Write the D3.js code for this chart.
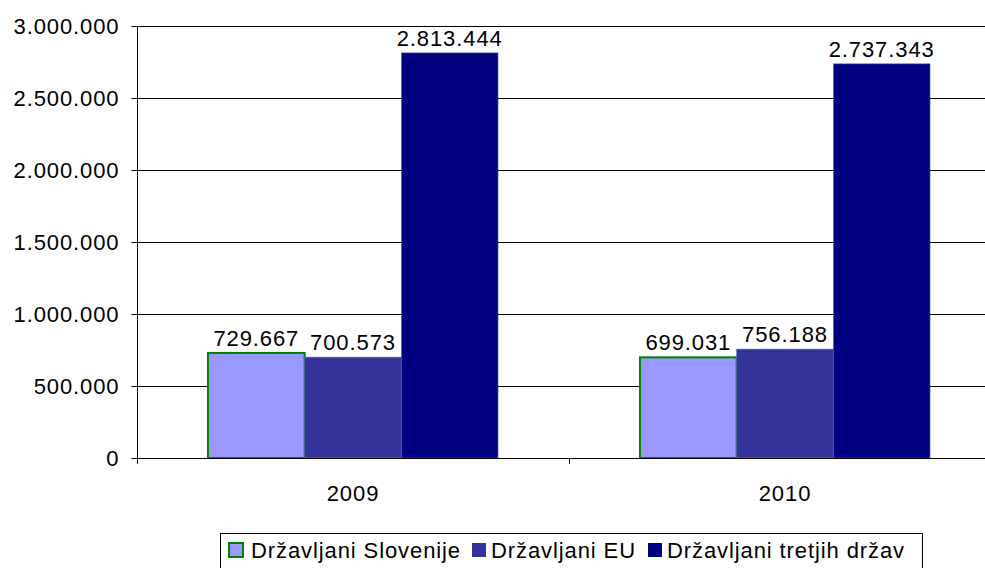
<!DOCTYPE html>
<html>
<head>
<meta charset="utf-8">
<script src="https://cdn.jsdelivr.net/npm/d3@7"></script>
<style>
  body { margin: 0; background: #fff; }
  svg { display: block; font-family: "Liberation Sans", Arial, sans-serif; }
  text { letter-spacing: 0.9px; }
</style>
</head>
<body>
<svg id="chart" width="985" height="568"></svg>
<script>
// data
const years = ['2009', '2010'];
const seriesNames = ['Državljani Slovenije', 'Državljani EU', 'Državljani tretjih držav'];
const slovenija = [729667, 699031];
const eu = [700573, 756188];
const tretje = [2813444, 2737343];
const yTicks = [0, 500000, 1000000, 1500000, 2000000, 2500000, 3000000];

const colors = ['#9999ff', '#333399', '#000080'];
const seriesValues = [slovenija, eu, tretje];

const svg = d3.select('#chart');
const plotLeft = 137, plotTop = 26, plotBottom = 458, plotRight = 1001;

const fmt = v => d3.format(',')(v).replace(/,/g, '.');

const x = d3.scaleBand().domain(years).range([plotLeft, plotRight]).paddingInner(0).paddingOuter(0);
const xInner = d3.scaleBand().domain(d3.range(seriesNames.length))
    .range([0, x.bandwidth()]).paddingOuter(0.734).paddingInner(0);
const y = d3.scaleLinear().domain([0, 3000000]).range([plotBottom, plotTop]);

// gridlines
svg.append('g')
    .selectAll('line')
    .data(yTicks.slice(1))
    .enter()
    .append('line')
    .attr('x1', plotLeft)
    .attr('x2', plotRight)
    .attr('y1', d => y(d) + 0.5)
    .attr('y2', d => y(d) + 0.5)
    .attr('stroke', '#000')
    .attr('stroke-width', 1);

// bars
const groups = svg.append('g')
    .selectAll('g')
    .data(years)
    .enter()
    .append('g')
    .attr('transform', d => `translate(${x(d)},0)`);

groups.selectAll('rect')
    .data((d, i) => seriesValues.map((s, k) => ({ k, v: s[i] })))
    .enter()
    .append('rect')
    .attr('x', d => xInner(d.k))
    .attr('width', xInner.bandwidth())
    .attr('y', d => y(d.v))
    .attr('height', d => plotBottom - y(d.v))
    .attr('fill', d => colors[d.k])
    .attr('stroke', d => d.k === 0 ? '#008000' : '#6666cc')
    .attr('stroke-width', d => d.k === 0 ? 2 : 0.6);

// value labels
groups.selectAll('text')
    .data((d, i) => seriesValues.map((s, k) => ({ k, v: s[i] })))
    .enter()
    .append('text')
    .attr('x', d => xInner(d.k) + xInner.bandwidth() / 2)
    .attr('y', d => y(d.v) - 7)
    .attr('text-anchor', 'middle')
    .attr('font-size', '22px')
    .attr('fill', '#000')
    .text(d => fmt(d.v));

// y axis
const yAxis = d3.axisLeft(y)
    .tickValues(yTicks)
    .tickSize(6)
    .tickPadding(12)
    .tickFormat(fmt);

const gy = svg.append('g')
    .attr('transform', `translate(${plotLeft + 0.5},0)`)
    .call(yAxis);
gy.select('.domain').attr('d', `M0,${plotTop}V${plotBottom + 6}`).attr('stroke', '#000');
gy.selectAll('.tick line').attr('stroke', '#000');
gy.selectAll('.tick text')
    .attr('font-size', '22px')
    .attr('font-family', '"Liberation Sans", Arial, sans-serif')
    .attr('fill', '#000')
    .attr('dy', '0.36em');

// x axis
const xAxis = d3.axisBottom(x).tickSize(0).tickPadding(27);
const gx = svg.append('g')
    .attr('transform', `translate(0,${plotBottom + 0.5})`)
    .call(xAxis);
gx.select('.domain').attr('d', `M${plotLeft},0H${plotRight}`).attr('stroke', '#000');
gx.selectAll('.tick text')
    .attr('font-size', '22px')
    .attr('font-family', '"Liberation Sans", Arial, sans-serif')
    .attr('fill', '#000');

// category separators
svg.append('g')
    .selectAll('line')
    .data(years.concat(['end']))
    .enter()
    .append('line')
    .attr('x1', (d, i) => plotLeft + i * x.step() + 0.5)
    .attr('x2', (d, i) => plotLeft + i * x.step() + 0.5)
    .attr('y1', plotBottom)
    .attr('y2', plotBottom + 6)
    .attr('stroke', '#000');

// legend
const legend = svg.append('g');
legend.append('rect')
    .attr('x', 220.5)
    .attr('y', 533.5)
    .attr('width', 702)
    .attr('height', 40)
    .attr('fill', '#fff')
    .attr('stroke', '#000');

const legendX = [229, 472, 648];
seriesNames.forEach((name, k) => {
    legend.append('rect')
        .attr('x', legendX[k])
        .attr('y', 543)
        .attr('width', 14)
        .attr('height', 14)
        .attr('fill', colors[k])
        .attr('stroke', k === 0 ? '#008000' : 'none')
        .attr('stroke-width', 2);
    legend.append('text')
        .attr('x', legendX[k] + (k === 0 ? 22 : 19))
        .attr('y', 558)
        .attr('font-size', '22px')
        .attr('fill', '#000')
        .text(name);
});
</script>
</body>
</html>
